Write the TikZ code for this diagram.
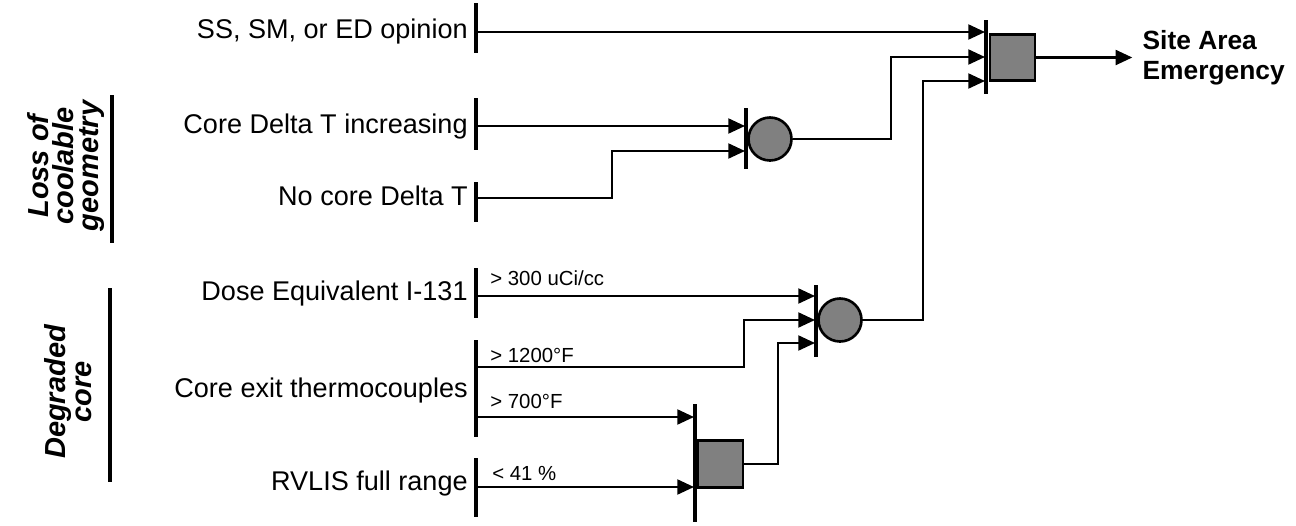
\documentclass[tikz,border=0pt]{standalone}
\usepackage{fontspec}
\setmainfont{Liberation Sans}
\usetikzlibrary{arrows.meta,positioning}

\begin{document}
\begin{tikzpicture}[x=0.02cm, y=-0.02cm,
    wire/.style={line width=1.3pt},
    feed/.style={wire, -{Triangle[length=9.5pt,width=8.5pt]}},
    bar/.style={line width=2.1pt},
    gatebox/.style={draw, line width=1.5pt, fill=black!50, inner sep=0pt, minimum width=0.9cm, minimum height=0.93cm},
    gatering/.style={circle, draw, line width=1.5pt, fill=black!50, inner sep=0pt, minimum size=0.86cm},
    input/.style={font=\fontsize{15.4}{18}\selectfont, inner sep=0pt, anchor=base east},
    cond/.style={font=\fontsize{11.6}{13}\selectfont, inner sep=0pt, anchor=base west},
    group/.style={font=\fontsize{16.5}{14.5}\selectfont\bfseries\itshape, align=center, inner sep=0pt, rotate=90}]
\useasboundingbox (0,0) rectangle (1296,525);
% Gates
\node[gatebox] (sae) at (1012.5,57.5) {};
\node[gatering] (orLoss) at (770,139) {};
\node[gatering] (orCore) at (840,320) {};
\node[gatebox] (andRv) at (720.5,464) {};
\draw[bar] (986,20) -- (986,94);
\draw[bar] (746,108) -- (746,169);
\draw[bar] (816,285) -- (816,357);
\draw[bar] (695,404) -- (695,522);
% Gate inputs
\foreach \y [count=\i] in {32,57,81} \coordinate (sae-\i) at (985,\y);
\foreach \y [count=\i] in {126,151} \coordinate (orLoss-\i) at (745,\y);
\foreach \y [count=\i] in {296,320,343} \coordinate (orCore-\i) at (815,\y);
\foreach \y [count=\i] in {417,487} \coordinate (andRv-\i) at (694,\y);
% Input signals
\foreach \name/\base/\ya/\yb/\txt in {
    ss/38/3/53/{SS, SM, or ED opinion},
    cdt/133/98/150/{Core Delta T increasing},
    ncdt/205/182/222/{No core Delta T},
    dose/300/268/318/{Dose Equivalent I-131},
    cet/397/340/437/{Core exit thermocouples},
    rvlis/490/458/517/{RVLIS full range}} {
    \node[input] (\name-lbl) at (468,\base) {\txt};
    \draw[bar] (476,\ya) -- (476,\yb);
}
\foreach \name/\y in {ss/32, cdt/126, ncdt/198, dose/296, cet-hi/367, cet-lo/417, rvlis/487}
    \coordinate (\name) at (476,\y);
% Setpoints
\node[cond] (dose-sp) at (490,285) {> 300 uCi/cc};
\node[cond] (cethi-sp) at (490,362) {> 1200°F};
\node[cond] (cetlo-sp) at (490,408) {> 700°F};
\node[cond] (rvlis-sp) at (492,480) {< 41 \%};
% Connections
\draw[feed] (ss) -- (sae-1);
\draw[feed] (cdt) -- (orLoss-1);
\draw[feed] (ncdt) -- ++(136,0) |- (orLoss-2);
\draw[feed] (dose) -- (orCore-1);
\draw[feed] (cet-hi) -- ++(268,0) |- (orCore-2);
\draw[feed] (cet-lo) -- (andRv-1);
\draw[feed] (rvlis) -- (andRv-2);
\draw[feed] (andRv.east) -- ++(34,0) |- (orCore-3);
\draw[feed] (orLoss.east) -- ++(98,0) |- (sae-2);
\draw[feed] (orCore.east) -- ++(60,0) |- (sae-3);
\draw[feed] (sae.east) -- ++(96,0) coordinate (sae-out);
\node[font=\fontsize{15}{17}\selectfont\bfseries, align=left, inner sep=0pt, anchor=west, right=0.2cm of sae-out] (sae-lbl) {Site Area\\Emergency};
% Groups
\draw[line width=2.8pt] (112,95) -- (112,243);
\draw[line width=2.8pt] (110,288) -- (110,482);
\node[group] (loss) at (66,166) {Loss of\\coolable\\geometry};
\node[group] (degraded) at (68,392) {Degraded\\core};
\end{tikzpicture}
\end{document}
